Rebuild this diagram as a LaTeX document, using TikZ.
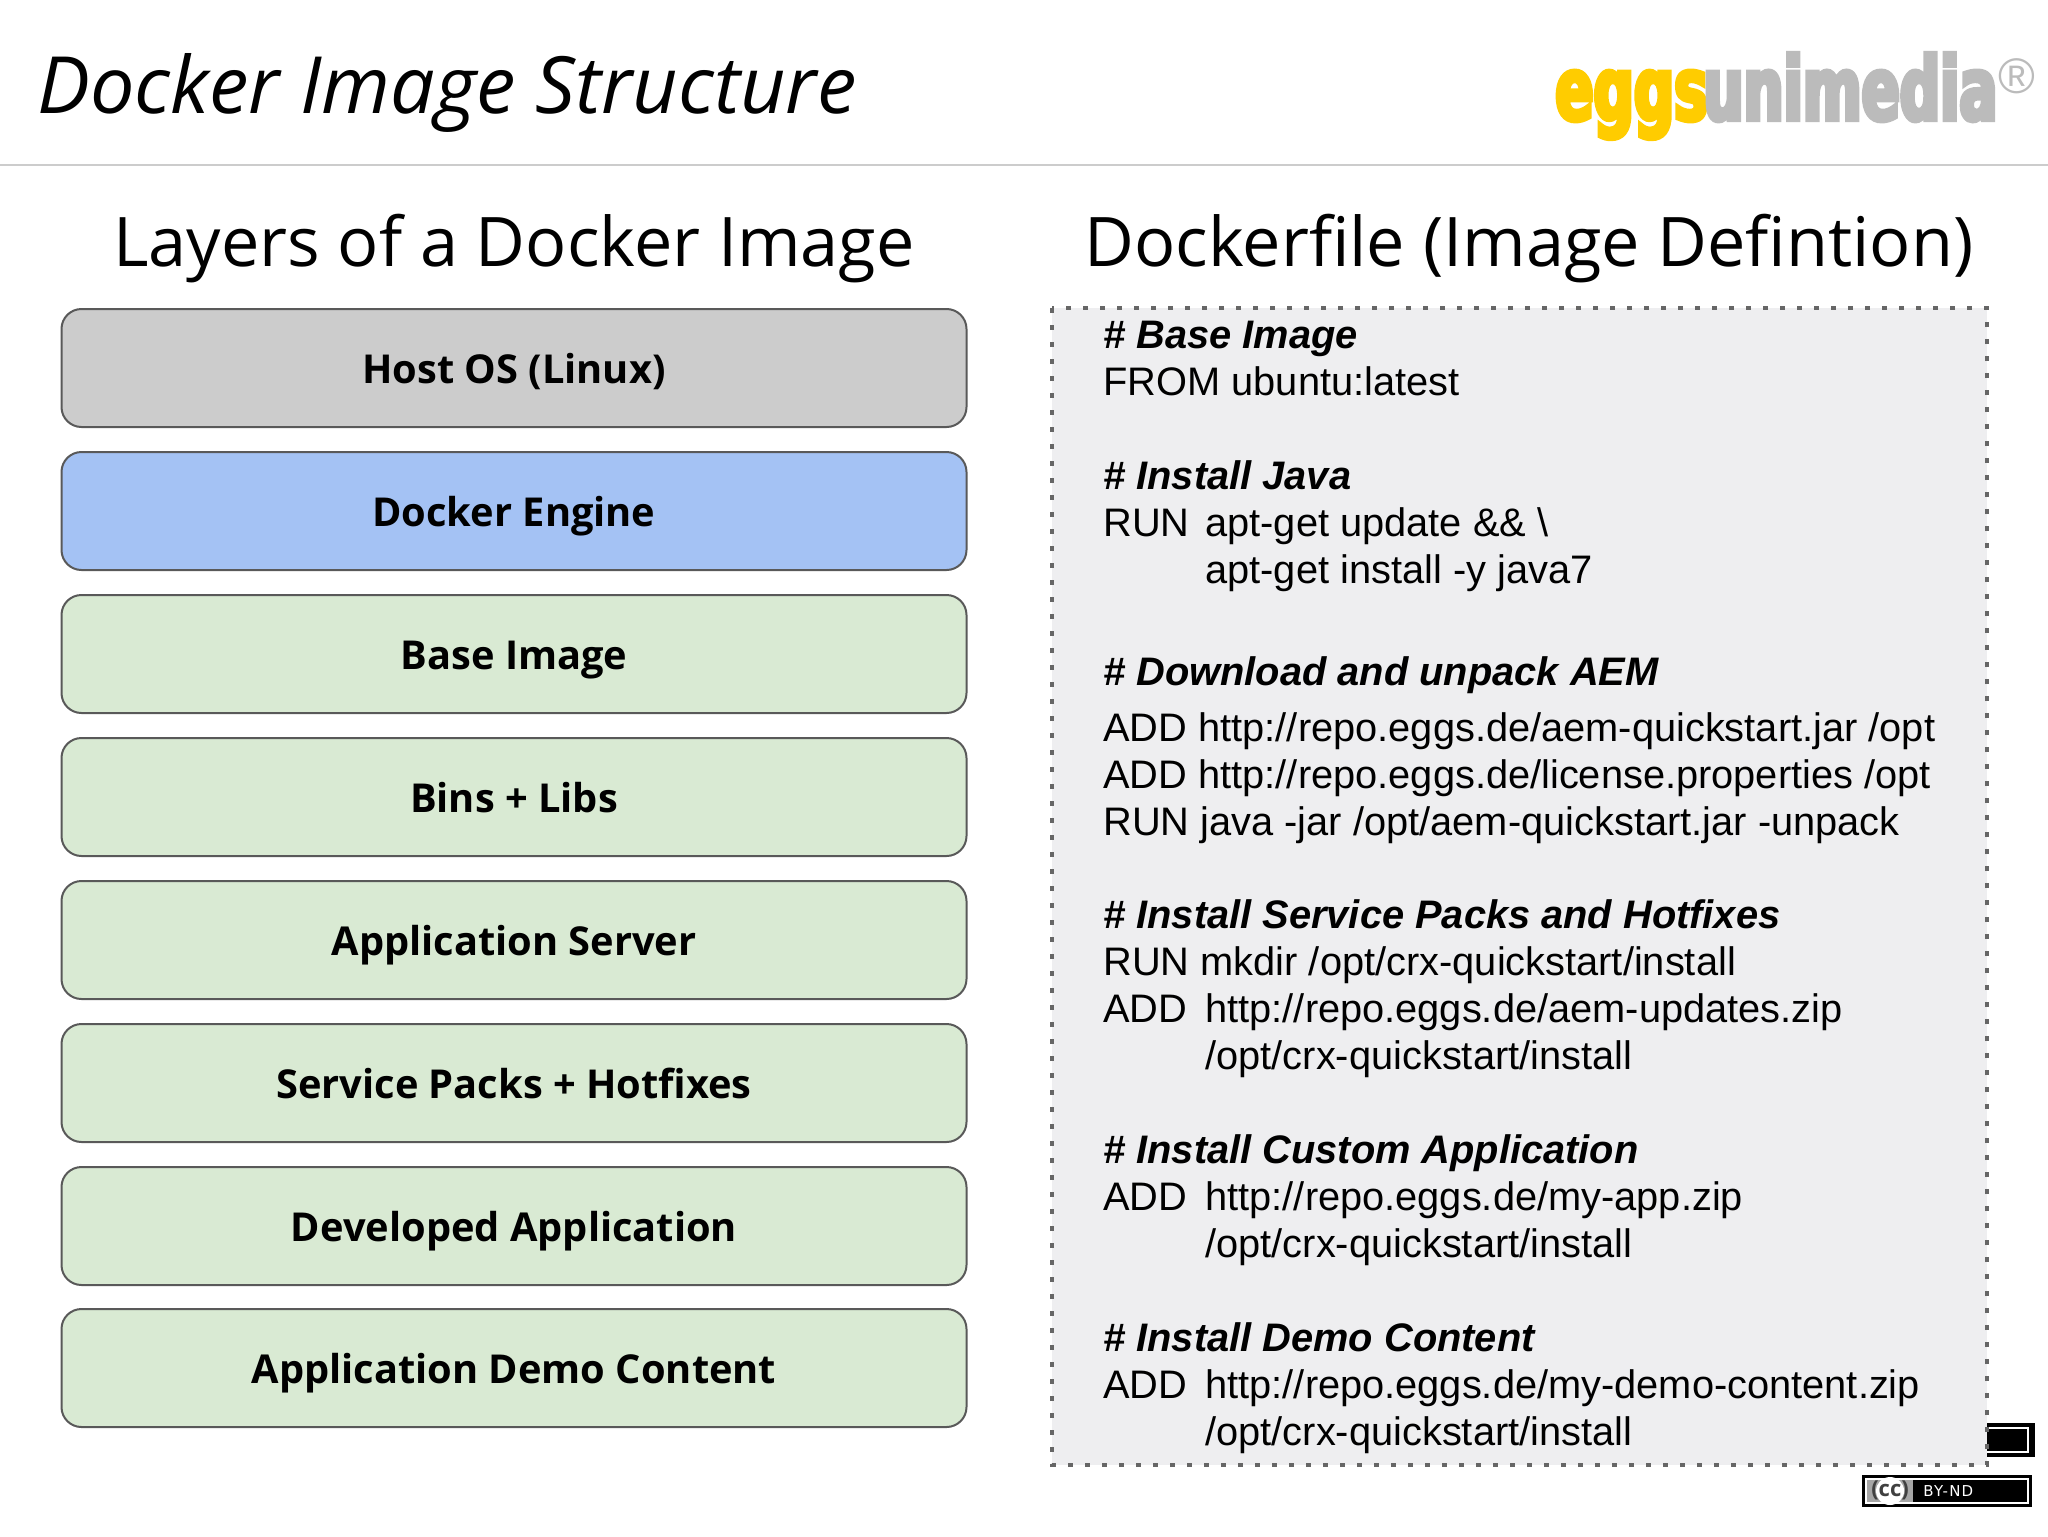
\documentclass[tikz,border=0pt]{standalone}
\usepackage{fontspec}
\setmainfont{Open Sans}
\newfontfamily\codefont{Liberation Sans}
\newfontfamily\logofont[FakeStretch=0.64,FakeBold=5]{DejaVu Sans Bold}
\newfontfamily\badgefont[LetterSpace=8]{DejaVu Sans}
\definecolor{hostgray}{HTML}{CCCCCC}
\definecolor{engineblue}{HTML}{A4C2F4}
\definecolor{layergreen}{HTML}{D9EAD3}
\definecolor{panelgray}{HTML}{EEEEF0}
\definecolor{edgegray}{HTML}{595959}
\definecolor{dotgray}{HTML}{666666}
\definecolor{eggyellow}{HTML}{FFCC00}
\definecolor{unigray}{HTML}{BBBBBB}
\tikzset{
  layerbox/.style={draw=edgegray, line width=1pt, rounded corners=10pt, minimum width=452.5pt, minimum height=59pt, font=\fontsize{19.9}{24}\selectfont\bfseries, text height=15.2pt, text depth=0pt, inner sep=0pt},
  heading/.style={font=\fontsize{34.2}{40}\selectfont, inner sep=0pt},
  codehead/.style={anchor=base west, inner sep=0pt, font=\fontsize{19.9}{24}\selectfont\codefont\bfseries\itshape},
  codeline/.style={anchor=base west, inner sep=0pt, font=\fontsize{19.9}{24}\selectfont\codefont},
  logotext/.style={anchor=base west, inner sep=0pt, font=\fontsize{44}{50}\selectfont\logofont}
}
\begin{document}
\begin{tikzpicture}[x=0.5pt, y=-0.5pt]
    \useasboundingbox (0,0) rectangle (2048,1536);

    % Header
    \node[anchor=base west, inner sep=0pt, font=\fontsize{39.5}{46}\selectfont\itshape] (title) at (37,113) {Docker Image Structure};
    \node[logotext, text=eggyellow] (logoeggs) at (1555,120) {eggs};
    \node[logotext, text=unigray] (logouni) at (1703,120) {unimedia};
    \node[inner sep=0pt, text=unigray, font=\fontsize{25}{28}\selectfont\codefont] (logoreg) at (2017,76) {®};
    \draw[hostgray, line width=1pt] (0,165) -- (2048,165);

    % Column headings
    \node[heading] (leftheading) at (514,249) {Layers of a Docker Image};
    \node[heading] (rightheading) at (1529,249) {Dockerfile (Image Defintion)};

    % Layers
    \node[layerbox, fill=hostgray] (hostos) at (514,368) {Host OS (Linux)};
    \node[layerbox, fill=engineblue] (engine) at (514,511) {Docker Engine};
    \node[layerbox, fill=layergreen] (baseimage) at (514,654) {Base Image};
    \node[layerbox, fill=layergreen] (binslibs) at (514,797) {Bins + Libs};
    \node[layerbox, fill=layergreen] (appserver) at (514,940) {Application Server};
    \node[layerbox, fill=layergreen] (servicepacks) at (514,1083) {Service Packs + Hotfixes};
    \node[layerbox, fill=layergreen] (devapp) at (514,1226) {Developed Application};
    \node[layerbox, fill=layergreen] (democontent) at (514,1368) {Application Demo Content};

    % Badges
    \node[draw=black, fill=black, line width=1pt, minimum width=28pt, minimum height=16pt, inner sep=0pt] (blackbadge) at (2006,1440) {};
    \draw[white, line width=0.6pt] (1980,1428) -- (2028,1428) -- (2028,1452) -- (1980,1452);
    \node[fill=black, minimum width=85pt, minimum height=16pt, inner sep=0pt] (ccbadge) at (1947,1491) {};
    \draw[white, line width=0.6pt] (1866,1479) rectangle (2028,1503);
    \fill[black!35] (1867,1480) rectangle (1913,1502);
    \node[circle, fill=white, minimum size=14pt, inner sep=0pt] (ccdisc) at (1890,1491) {};
    \node[inner sep=0pt, font=\fontsize{11}{14}\selectfont\bfseries, text=black!75] (cclabel) at (1890,1490) {(cc)};
    \node[anchor=west, inner sep=0pt, font=\fontsize{7.5}{10}\selectfont\badgefont, text=white] (ccterms) at (1923,1491) {BY-ND};

    % Dockerfile
    \path[fill=panelgray] (1052,308) rectangle (1987,1465);
    \draw[dotgray, line width=2.4pt, dash pattern=on 2.4pt off 6.1pt] (1052,308) rectangle (1987,1465);

    \node[codehead] (basehead) at (1103,348) {\# Base Image};
    \node[codeline] (baseline) at (1103,395) {FROM ubuntu:latest};

    \node[codehead] (javahead) at (1103,489) {\# Install Java};
    \node[codeline] (javarun) at (1103,536) {RUN};
    \node[codeline] (javaone) at (1205,536) {apt-get update \&\& \textbackslash};
    \node[codeline] (javatwo) at (1205,583) {apt-get install -y java7};

    \node[codehead] (aemhead) at (1103,685) {\# Download and unpack AEM};
    \node[codeline] (aemone) at (1103,741) {ADD http://repo.eggs.de/aem-quickstart.jar /opt};
    \node[codeline] (aemtwo) at (1103,788) {ADD http://repo.eggs.de/license.properties /opt};
    \node[codeline] (aemthree) at (1103,835) {RUN java -jar /opt/aem-quickstart.jar -unpack};

    \node[codehead] (spshead) at (1103,928) {\# Install Service Packs and Hotfixes};
    \node[codeline] (spsone) at (1103,975) {RUN mkdir /opt/crx-quickstart/install};
    \node[codeline] (spstwo) at (1103,1022) {ADD};
    \node[codeline] (spsthree) at (1205,1022) {http://repo.eggs.de/aem-updates.zip};
    \node[codeline] (spsfour) at (1205,1069) {/opt/crx-quickstart/install};

    \node[codehead] (apphead) at (1103,1163) {\# Install Custom Application};
    \node[codeline] (appone) at (1103,1210) {ADD};
    \node[codeline] (apptwo) at (1205,1210) {http://repo.eggs.de/my-app.zip};
    \node[codeline] (appthree) at (1205,1257) {/opt/crx-quickstart/install};

    \node[codehead] (demohead) at (1103,1351) {\# Install Demo Content};
    \node[codeline] (demoone) at (1103,1398) {ADD};
    \node[codeline] (demotwo) at (1205,1398) {http://repo.eggs.de/my-demo-content.zip};
    \node[codeline] (demothree) at (1205,1445) {/opt/crx-quickstart/install};
\end{tikzpicture}
\end{document}
